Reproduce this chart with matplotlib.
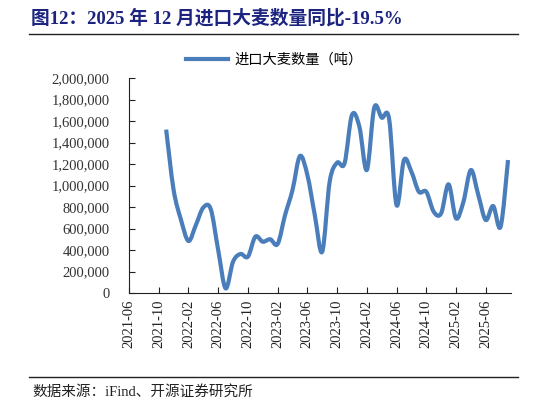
import numpy as np
import matplotlib
matplotlib.use('Agg')
import matplotlib.pyplot as plt
from matplotlib.path import Path
from matplotlib.patches import PathPatch
from matplotlib.lines import Line2D

# month labels on the category axis (one per month, from 2021-06)
months = []
for i in range(52):
	y = 2021 + (5 + i) // 12
	m = (5 + i) % 12 + 1
	months.append('%d-%02d' % (y, m))
tick_idx = list(range(0, 52, 4))
tick_labels = [months[i] for i in tick_idx]

# imports of barley, tonnes (first value at 2021-11)
start_idx = 5
volume = [1520000, 960000, 680000, 484000, 633000, 795000, 780000, 400000,
		  43000, 291000, 363000, 338000, 524000, 477000, 500000, 456000,
		  725000, 958000, 1274000, 1098000, 725000, 384000, 1035000, 1212000,
		  1206000, 1656000, 1547000, 1144000, 1724000, 1631000, 1619000, 818000,
		  1237000, 1128000, 942000, 942000, 756000, 741000, 1011000, 695000,
		  849000, 1144000, 912000, 679000, 809000, 617000, 1237000]

title = '图12：2025 年 12 月进口大麦数量同比-19.5%'
legend_label = '进口大麦数量（吨）'
source = '数据来源：iFind、开源证券研究所'

line_color = '#4A7EBB'
serif_cjk = ['Liberation Serif', 'Noto Sans CJK SC']

def smooth_path(x, y, t=1.0/6):
	"""
	Catmull-Rom style bezier path through the points, like an Excel
	smoothed line.
	"""
	x = np.asarray(x, float)
	y = np.asarray(y, float)
	n = len(x)
	verts = [(x[0], y[0])]
	codes = [Path.MOVETO]
	for i in range(n - 1):
		x0, y0 = (x[i - 1], y[i - 1]) if i > 0 else (x[i], y[i])
		x3, y3 = (x[i + 2], y[i + 2]) if i + 2 < n else (x[i + 1], y[i + 1])
		c1 = (x[i] + (x[i + 1] - x0) * t, y[i] + (y[i + 1] - y0) * t)
		c2 = (x[i + 1] - (x3 - x[i]) * t, y[i + 1] - (y3 - y[i]) * t)
		verts += [c1, c2, (x[i + 1], y[i + 1])]
		codes += [Path.CURVE4] * 3
	return Path(verts, codes)

fig = plt.figure(figsize=(5.46, 4.07), dpi=100)
ax = fig.add_axes([129.0 / 546, 1 - 293.0 / 407, (511.0 - 129.0) / 546, (293.0 - 78.0) / 407])

xs = np.arange(start_idx, start_idx + len(volume))
path = smooth_path(xs, volume)
ax.add_patch(PathPatch(path, facecolor='none', edgecolor=line_color, lw=3.0,
					   capstyle='butt', joinstyle='round'))

ax.set_xlim(0, 51.4)
ax.set_ylim(0, 2000000)
ax.set_yticks(np.arange(0, 2000001, 200000))
ax.set_yticklabels(['{:,}'.format(v) for v in range(0, 2000001, 200000)],
				   family='Liberation Serif', fontsize=10.5, color='#333333')
ax.set_xticks(tick_idx)
ax.set_xticklabels(tick_labels, rotation=90, family='Liberation Serif',
				   fontsize=10.5, color='#222222')
ax.tick_params(axis='both', direction='in', length=4, width=0.8, color='#222222')
ax.tick_params(axis='y', pad=14)
ax.tick_params(axis='x', pad=5)
ax.spines['right'].set_visible(False)
ax.spines['top'].set_visible(False)
ax.spines['left'].set_color('#222222')
ax.spines['bottom'].set_color('#222222')

handle = Line2D([], [], color=line_color, lw=3.0)
leg = fig.legend([handle], [legend_label], loc='center', bbox_to_anchor=(274.0 / 546, 1 - 60.0 / 407),
				 frameon=False, handlelength=3.0, handletextpad=0.4,
				 prop={'family': serif_cjk, 'size': 10.3})

fig.text(31.0 / 546, 1 - 18.0 / 407, title, family=serif_cjk, fontweight='bold',
		 fontsize=13.5, color='#1C2480', va='center', ha='left')
fig.add_artist(Line2D([29.0 / 546, 518.0 / 546], [1 - 33.5 / 407, 1 - 33.5 / 407],
					  color='#222222', lw=1.0))
fig.add_artist(Line2D([29.0 / 546, 518.0 / 546], [1 - 377.0 / 407, 1 - 377.0 / 407],
					  color='#222222', lw=1.0))
fig.text(32.0 / 546, 1 - 392.0 / 407, source, family=serif_cjk, fontsize=10.5,
		 color='#222222', va='center', ha='left')

fig.savefig('out.png', dpi=100)
